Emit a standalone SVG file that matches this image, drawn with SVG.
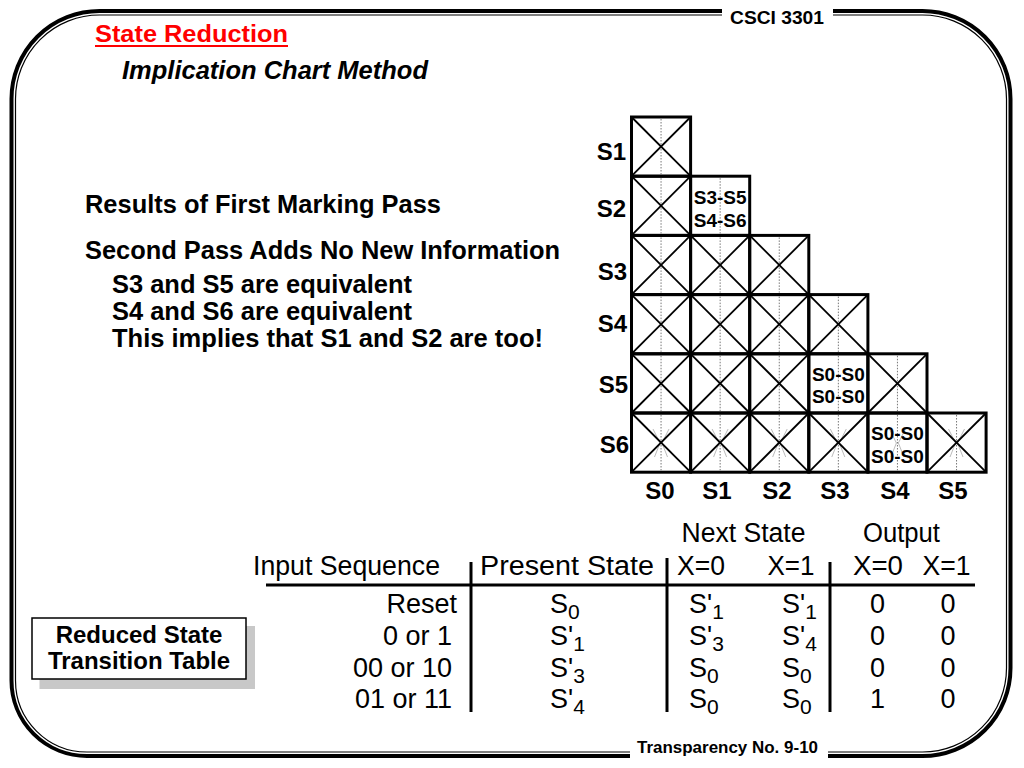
<svg xmlns="http://www.w3.org/2000/svg" xmlns:xlink="http://www.w3.org/1999/xlink" width="1024" height="768" viewBox="0 0 1024 768">
<style>
.b{font-family:"Liberation Sans",Arial,Helvetica,sans-serif;font-weight:bold;fill:#000}
.t{font-family:"Liberation Sans",Arial,Helvetica,sans-serif;font-size:27px;fill:#000}
.sub{font-size:21px}
.cellbox{fill:none;stroke:#000;stroke-width:3}
.diag{stroke:#000;stroke-width:1.8}
.dot{stroke:#777;stroke-width:1;stroke-dasharray:1.5 1.5}
.feather{stroke:#aaa;stroke-width:0.8;fill:none}
.rule{stroke:#000;stroke-width:3}
.lbl{font-size:24px}
.ctx{font-size:19px}
</style>
<defs>
  <g id="xcell">
    <line class="dot" x1="29.55" y1="2" x2="29.55" y2="57.2"/>
    <line class="diag" x1="0" y1="0" x2="59.1" y2="59.2"/>
    <line class="diag" x1="59.1" y1="0" x2="0" y2="59.2"/>
    <rect class="cellbox" x="0" y="0" width="59.1" height="59.2"/>
  </g>
  <g id="pcell">
    <line class="dot" x1="29.55" y1="2" x2="29.55" y2="57.2"/>
    <rect class="cellbox" x="0" y="0" width="59.1" height="59.2"/>
  </g>
  <path id="feather" class="feather" d="M21.5 16 L28.5 30 L23 44 M37.5 16 L30.5 30 L36 44"/>
</defs>

<!-- slide frame -->
<g id="frame" fill="none" stroke="#000">
  <path stroke-width="4" d="M99.5 11 H922.5 A88 88 0 0 1 1010.5 99 V668 A88 88 0 0 1 922.5 756 H87 A75.5 75.5 0 0 1 11.5 680.5 V99 A88 88 0 0 1 99.5 11 Z"/>
  <path stroke-width="1.2" d="M99.5 15 H922.5 A84 84 0 0 1 1006.5 99 V668 A84 84 0 0 1 922.5 752 H87 A71.5 71.5 0 0 1 15.5 680.5 V99 A84 84 0 0 1 99.5 15 Z"/>
</g>
<g id="header">
  <rect x="722" y="3" width="111" height="17" fill="#fff"/>
  <text class="b" x="730" y="24" font-size="18" textLength="94" lengthAdjust="spacingAndGlyphs">CSCI 3301</text>
</g>
<g id="footer">
  <rect x="630" y="746" width="198" height="16" fill="#fff"/>
  <text class="b" x="637" y="753" font-size="17" textLength="181" lengthAdjust="spacingAndGlyphs">Transparency No. 9-10</text>
</g>

<!-- titles -->
<g id="title">
  <text class="b" x="95" y="42" font-size="24" style="fill:#ff0000" textLength="193" lengthAdjust="spacingAndGlyphs">State Reduction</text>
  <line x1="95" y1="46" x2="288" y2="46" stroke="#ff0000" stroke-width="2"/>
</g>
<g id="subtitle">
  <text class="b" x="122" y="79" font-size="25" font-style="italic" textLength="306" lengthAdjust="spacingAndGlyphs">Implication Chart Method</text>
</g>

<!-- body text -->
<g id="body" class="b" font-size="25">
  <text x="85" y="213" textLength="356" lengthAdjust="spacingAndGlyphs">Results of First Marking Pass</text>
  <text x="85" y="259" textLength="475" lengthAdjust="spacingAndGlyphs">Second Pass Adds No New Information</text>
  <text x="112" y="293" textLength="300" lengthAdjust="spacingAndGlyphs">S3 and S5 are equivalent</text>
  <text x="112" y="320" textLength="300" lengthAdjust="spacingAndGlyphs">S4 and S6 are equivalent</text>
  <text x="112" y="347" textLength="431" lengthAdjust="spacingAndGlyphs">This implies that S1 and S2 are too!</text>
</g>

<!-- implication chart -->
<g id="chart">
  <g id="row-S1">
    <use xlink:href="#xcell" href="#xcell" x="631.5" y="117"/>
  </g>
  <g id="row-S2">
    <use xlink:href="#xcell" href="#xcell" x="631.5" y="176.2"/>
    <g id="cell-S2-S1">
      <use xlink:href="#pcell" href="#pcell" x="690.6" y="176.2"/>
      <text class="b ctx" x="720.15" y="204" text-anchor="middle">S3-S5</text>
      <text class="b ctx" x="720.15" y="227" text-anchor="middle">S4-S6</text>
    </g>
  </g>
  <g id="row-S3">
    <use xlink:href="#xcell" href="#xcell" x="631.5" y="235.4"/>
    <use xlink:href="#xcell" href="#xcell" x="690.6" y="235.4"/>
    <use xlink:href="#xcell" href="#xcell" x="749.7" y="235.4"/>
  </g>
  <g id="row-S4">
    <use xlink:href="#xcell" href="#xcell" x="631.5" y="294.6"/>
    <use xlink:href="#xcell" href="#xcell" x="690.6" y="294.6"/>
    <use xlink:href="#xcell" href="#xcell" x="749.7" y="294.6"/>
    <use xlink:href="#xcell" href="#xcell" x="808.8" y="294.6"/>
  </g>
  <g id="row-S5">
    <use xlink:href="#xcell" href="#xcell" x="631.5" y="353.8"/>
    <use xlink:href="#xcell" href="#xcell" x="690.6" y="353.8"/>
    <use xlink:href="#xcell" href="#xcell" x="749.7" y="353.8"/>
    <g id="cell-S5-S3">
      <use xlink:href="#pcell" href="#pcell" x="808.8" y="353.8"/>
      <text class="b ctx" x="838.35" y="381" text-anchor="middle">S0-S0</text>
      <text class="b ctx" x="838.35" y="403" text-anchor="middle">S0-S0</text>
    </g>
    <use xlink:href="#xcell" href="#xcell" x="867.9" y="353.8"/>
  </g>
  <g id="row-S6">
    <use xlink:href="#feather" href="#feather" x="631.5" y="413"/>
    <use xlink:href="#feather" href="#feather" x="690.6" y="413"/>
    <use xlink:href="#feather" href="#feather" x="749.7" y="413"/>
    <use xlink:href="#feather" href="#feather" x="808.8" y="413"/>
    <use xlink:href="#feather" href="#feather" x="867.9" y="413"/>
    <use xlink:href="#feather" href="#feather" x="927" y="413"/>
    <use xlink:href="#xcell" href="#xcell" x="631.5" y="413"/>
    <use xlink:href="#xcell" href="#xcell" x="690.6" y="413"/>
    <use xlink:href="#xcell" href="#xcell" x="749.7" y="413"/>
    <use xlink:href="#xcell" href="#xcell" x="808.8" y="413"/>
    <g id="cell-S6-S4">
      <use xlink:href="#pcell" href="#pcell" x="867.9" y="413"/>
      <text class="b ctx" x="897.45" y="440" text-anchor="middle">S0-S0</text>
      <text class="b ctx" x="897.45" y="463" text-anchor="middle">S0-S0</text>
    </g>
    <use xlink:href="#xcell" href="#xcell" x="927" y="413"/>
  </g>
  <g id="row-labels" class="b lbl" text-anchor="end">
    <text x="626" y="160">S1</text>
    <text x="626" y="217">S2</text>
    <text x="627" y="280">S3</text>
    <text x="627" y="332">S4</text>
    <text x="628" y="393">S5</text>
    <text x="629" y="453">S6</text>
  </g>
  <g id="col-labels" class="b lbl" text-anchor="middle">
    <text x="660" y="498.5">S0</text>
    <text x="717" y="498.5">S1</text>
    <text x="777" y="498.5">S2</text>
    <text x="835" y="498.5">S3</text>
    <text x="895" y="498.5">S4</text>
    <text x="953" y="498.5">S5</text>
  </g>
</g>

<!-- reduced state transition table -->
<g id="table">
  <g id="table-rules">
    <line class="rule" x1="266" y1="585" x2="975" y2="585"/>
    <line class="rule" x1="471" y1="562" x2="471" y2="712"/>
    <line class="rule" x1="667" y1="558" x2="667" y2="712"/>
    <line class="rule" x1="830" y1="562" x2="830" y2="712"/>
  </g>
  <g id="table-head" class="t">
    <text x="681.5" y="541.5" textLength="124" lengthAdjust="spacingAndGlyphs">Next State</text>
    <text x="863" y="541.5" textLength="77" lengthAdjust="spacingAndGlyphs">Output</text>
    <text x="253" y="575" textLength="187" lengthAdjust="spacingAndGlyphs">Input Sequence</text>
    <text x="480" y="575" textLength="174" lengthAdjust="spacingAndGlyphs">Present State</text>
    <text x="677" y="575" textLength="48" lengthAdjust="spacingAndGlyphs">X=0</text>
    <text x="767.5" y="575" textLength="47" lengthAdjust="spacingAndGlyphs">X=1</text>
    <text x="853" y="575" textLength="50" lengthAdjust="spacingAndGlyphs">X=0</text>
    <text x="922.5" y="575" textLength="48" lengthAdjust="spacingAndGlyphs">X=1</text>
  </g>
  <g id="col-input" class="t" text-anchor="end">
    <text x="457" y="613">Reset</text>
    <text x="452" y="645">0 or 1</text>
    <text x="452" y="677">00 or 10</text>
    <text x="452" y="708">01 or 11</text>
  </g>
  <g id="col-present" class="t">
    <text x="550" y="613">S<tspan class="sub" dy="6">0</tspan></text>
    <text x="550" y="645">S'<tspan class="sub" dy="6">1</tspan></text>
    <text x="550" y="677">S'<tspan class="sub" dy="6">3</tspan></text>
    <text x="550" y="708">S'<tspan class="sub" dy="6">4</tspan></text>
  </g>
  <g id="col-next0" class="t">
    <text x="689" y="613">S'<tspan class="sub" dy="6">1</tspan></text>
    <text x="689" y="645">S'<tspan class="sub" dy="6">3</tspan></text>
    <text x="689" y="677">S<tspan class="sub" dy="6">0</tspan></text>
    <text x="689" y="708">S<tspan class="sub" dy="6">0</tspan></text>
  </g>
  <g id="col-next1" class="t">
    <text x="782" y="613">S'<tspan class="sub" dy="6">1</tspan></text>
    <text x="782" y="645">S'<tspan class="sub" dy="6">4</tspan></text>
    <text x="782" y="677">S<tspan class="sub" dy="6">0</tspan></text>
    <text x="782" y="708">S<tspan class="sub" dy="6">0</tspan></text>
  </g>
  <g id="col-out" class="t" text-anchor="middle">
    <text x="877.5" y="613">0</text>
    <text x="948" y="613">0</text>
    <text x="877.5" y="645">0</text>
    <text x="948" y="645">0</text>
    <text x="877.5" y="677">0</text>
    <text x="948" y="677">0</text>
    <text x="877.5" y="708">1</text>
    <text x="948" y="708">0</text>
  </g>
</g>

<!-- caption box -->
<g id="caption">
  <rect x="39.5" y="626" width="215.5" height="63" fill="#c8c8c8"/>
  <rect x="32" y="618" width="214" height="61" fill="#fff" stroke="#000" stroke-width="1.5"/>
  <text class="b" x="139" y="643" font-size="24" text-anchor="middle">Reduced State</text>
  <text class="b" x="139" y="669" font-size="24" text-anchor="middle">Transition Table</text>
</g>
</svg>
